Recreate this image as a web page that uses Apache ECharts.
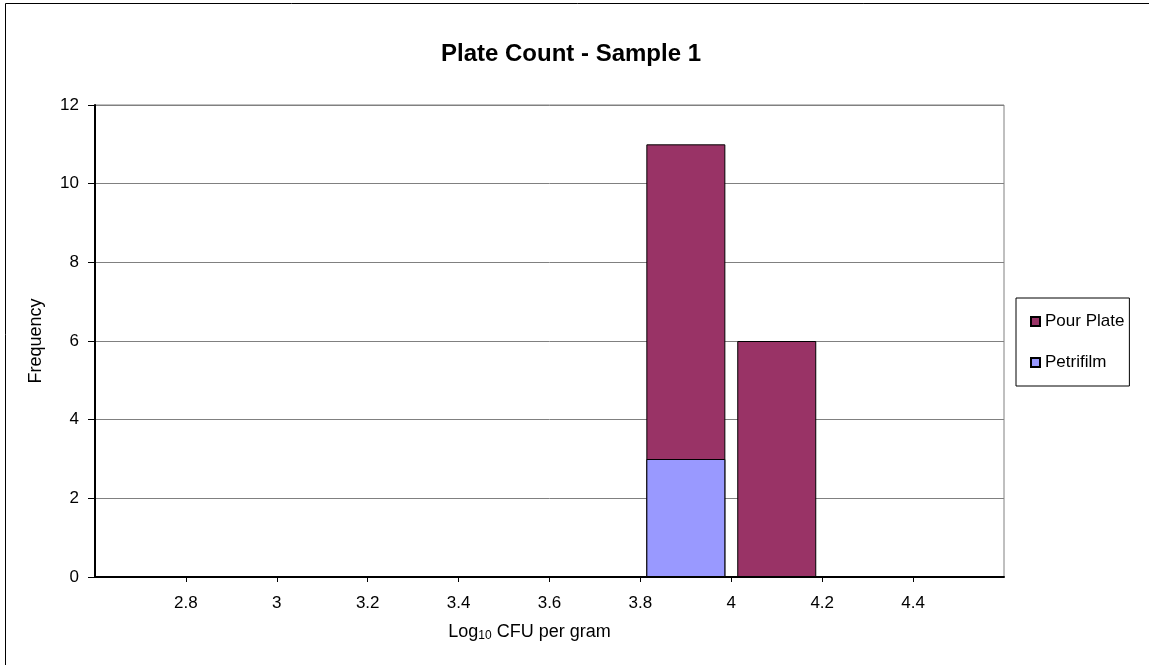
<!DOCTYPE html>
<html>
<head>
<meta charset="utf-8">
<script src="https://cdn.jsdelivr.net/npm/echarts@6/dist/echarts.min.js"></script>
<style>
html,body{margin:0;padding:0;background:#fff;}
#chart{width:1149px;height:665px;}
</style>
</head>
<body>
<div id="chart"></div>
<script>
// Bin centres (Log10 CFU per gram)
const binCentres = [3.9, 4.1];
// Frequencies per series
const petrifilm = [3, 0];
const pourPlate = [8, 6];
// Axis settings
const xMin = 2.6, xMax = 4.6, xStep = 0.2;
const yMax = 12, yStep = 2;

const petriData = binCentres.map((x, i) => [x, petrifilm[i]]).filter(d => d[1] > 0);
// Pour Plate is stacked on Petrifilm: draw its top at the cumulative height
const pourData = binCentres.map((x, i) => [x, petrifilm[i] + pourPlate[i]]);

const FONT = 'Liberation Sans, Arial, sans-serif';
const chart = echarts.init(document.getElementById('chart'), null, {renderer: 'canvas'});
chart.setOption({
  animation: false,
  backgroundColor: '#fff',
  title: {
    text: 'Plate Count - Sample 1',
    left: 566, top: 37, textAlign: 'center',
    textStyle: {fontFamily: FONT, fontSize: 24, fontWeight: 'bold', color: '#000'}
  },
  graphic: [{
    type: 'rect', shape: {x: 5.5, y: 3.5, width: 1160, height: 680},
    style: {fill: 'none', stroke: '#000', lineWidth: 1}, silent: true, z: -1
  }],
  legend: {
    orient: 'vertical', left: 1016, top: 298,
    data: ['Pour Plate', 'Petrifilm'],
    itemWidth: 9, itemHeight: 9, itemGap: 24,
    padding: [15, 5, 15, 14],
    borderColor: '#000', borderWidth: 1,
    textStyle: {fontFamily: FONT, fontSize: 17, color: '#000'},
    icon: 'rect'
  },
  grid: {left: 95, right: 145, top: 105, bottom: 88, show: true, borderColor: '#808080', borderWidth: 1},
  xAxis: {
    type: 'value', min: xMin, max: xMax, interval: xStep,
    name: 'Log{sub|10} CFU per gram', nameLocation: 'middle', nameGap: 46,
    nameTextStyle: {fontFamily: FONT, fontSize: 18, color: '#000', padding: [0, 40, 0, 0],
      rich: {sub: {fontFamily: FONT, fontSize: 12, color: '#000', verticalAlign: 'bottom', padding: [7, 0, 0, 0]}}},
    axisLine: {lineStyle: {color: '#000', width: 2}},
    axisTick: {show: true, length: 5, lineStyle: {color: '#000'}},
    splitLine: {show: false},
    axisLabel: {showMinLabel: false, showMaxLabel: false, margin: 18, fontFamily: FONT, fontSize: 17, color: '#000',
      formatter: v => String(Math.round(v * 10) / 10)}
  },
  yAxis: {
    type: 'value', min: 0, max: yMax, interval: yStep,
    name: 'Frequency', nameLocation: 'middle', nameGap: 50, nameRotate: 90,
    nameTextStyle: {fontFamily: FONT, fontSize: 18, color: '#000'},
    axisLine: {show: true, lineStyle: {color: '#000', width: 2}},
    axisTick: {show: true, length: 7, lineStyle: {color: '#000'}},
    splitLine: {show: true, lineStyle: {color: '#808080', width: 1}},
    axisLabel: {margin: 16, fontFamily: FONT, fontSize: 17, color: '#000'}
  },
  series: [
    {
      name: 'Pour Plate', type: 'bar', data: pourData, barWidth: 79, barGap: '-100%',
      itemStyle: {color: '#993366', borderColor: '#000', borderWidth: 1}
    },
    {
      name: 'Petrifilm', type: 'bar', data: petriData, barWidth: 79, barGap: '-100%',
      itemStyle: {color: '#9999FF', borderColor: '#000', borderWidth: 1}
    }
  ]
});
</script>
</body>
</html>
